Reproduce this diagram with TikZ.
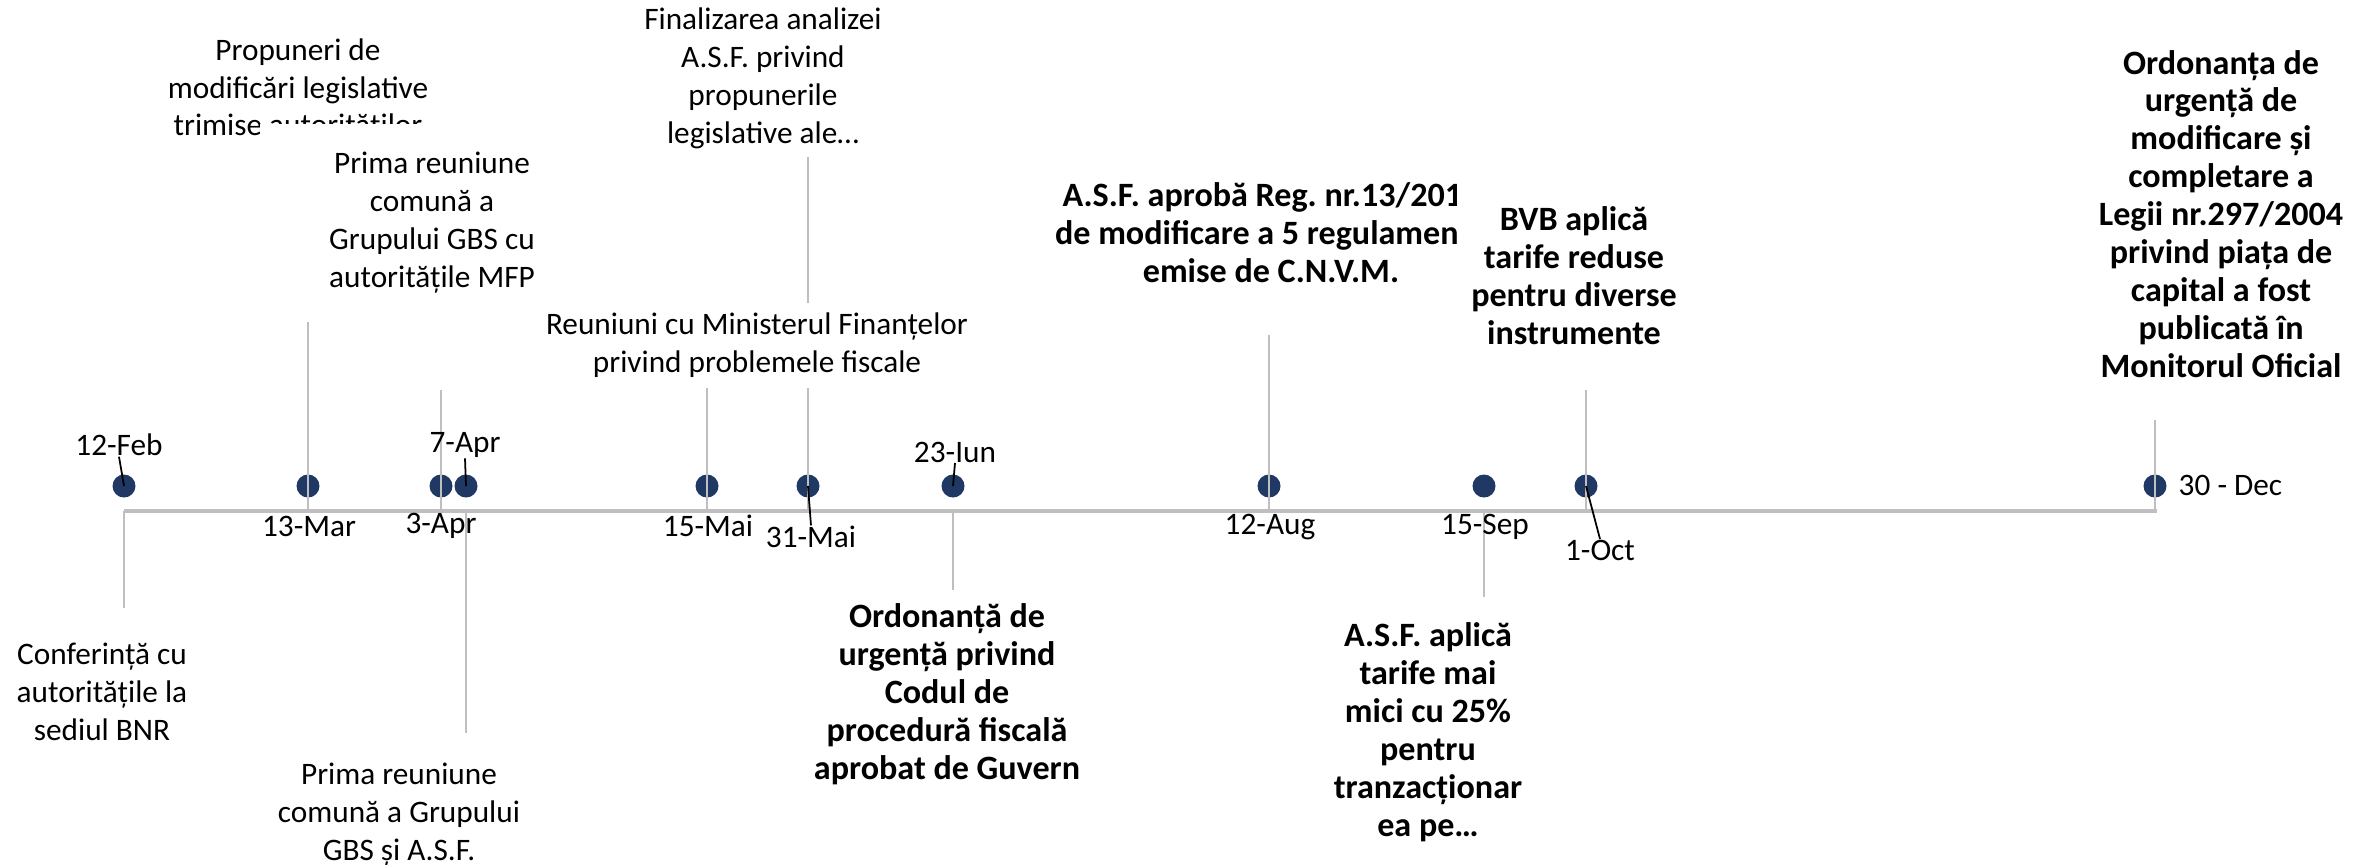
\documentclass[tikz,border=0pt]{standalone}
\usepackage{fontspec}
\setmainfont{Carlito}
\definecolor{navy}{HTML}{1F3864}
\definecolor{stemgrey}{HTML}{BFBFBF}
\frenchspacing

\begin{document}
\begin{tikzpicture}[x=0.1mm, y=-0.1mm,
dot/.style = {circle, fill=navy, inner sep=0pt, minimum size=2.3mm},
stem/.style = {draw=stemgrey, line width=0.6pt},
axis/.style = {draw=stemgrey, line width=0.9pt},
leader/.style = {draw=black, line width=0.5pt},
lbl/.style = {align=center, inner sep=0pt, font=\fontsize{8.9pt}{10.8pt}\selectfont},
lblb/.style = {lbl, font=\fontsize{9.7pt}{10.8pt}\selectfont\bfseries},
date/.style = {inner sep=0pt, font=\fontsize{8.9pt}{10.8pt}\selectfont}]
\useasboundingbox (0,0) rectangle (2379,864);

% axis and events
\coordinate (axL) at (124,511);
\coordinate (axR) at (2157,511);
\node[dot] (dFeb) at (124,486) {};
\node[dot] (dMar) at (308,486) {};
\node[dot] (dAprA) at (441,486) {};
\node[dot] (dAprB) at (466,486) {};
\node[dot] (dMaiA) at (707,486) {};
\node[dot] (dMaiB) at (808,486) {};
\node[dot] (dIun) at (953,486) {};
\node[dot] (dAug) at (1269,486) {};
\node[dot] (dSep) at (1484,486) {};
\node[dot] (dOct) at (1586,486) {};
\node[dot] (dDec) at (2155,486) {};

\draw[axis] (axL) -- (axR);

% stem ends
\coordinate (sFeb) at (124,608);
\coordinate (sMar) at (308,322);
\coordinate (sAprA) at (441,390);
\coordinate (sAprB) at (466,733);
\coordinate (sMaiA) at (707,387);
\coordinate (sMaiB) at (808,157);
\coordinate (sIun) at (953,590);
\coordinate (sAug) at (1269,335);
\coordinate (sSep) at (1484,597);
\coordinate (sOct) at (1586,390);
\coordinate (sDec) at (2155,420);
\draw[stem] (dFeb |- axL) -- (sFeb);
\draw[stem] (dMar |- axL) -- (sMar);
\draw[stem] (dAprA |- axL) -- (sAprA);
\draw[stem] (dAprB |- axL) -- (sAprB);
\draw[stem] (dMaiA |- axL) -- (sMaiA);
\draw[stem] (dMaiB |- axL) -- (sMaiB);
\draw[stem] (dIun |- axL) -- (sIun);
\draw[stem] (dAug |- axL) -- (sAug);
\draw[stem] (dSep |- axL) -- (sSep);
\draw[stem] (dOct |- axL) -- (sOct);
\draw[stem] (dDec |- axL) -- (sDec);

% event texts
\node[lbl] (eMar) at (298,90) {Propuneri de\\modificări legislative\\trimise autorităților};
\node[lbl, fill=white, minimum width=34.5mm, minimum height=19.8mm] (eAprA) at (432,223)
  {Prima reuniune\\comună a\\Grupului GBS cu\\autoritățile MFP};
\node[lbl, fill=white, minimum width=44mm, minimum height=8.5mm] (eMaiA) at (757,345)
  {Reuniuni cu Ministerul Finanțelor\\privind problemele fiscale};
\node[lbl] (eMaiB) at (763,78) {Finalizarea analizei\\A.S.F. privind\\propunerile\\legislative ale…};
\node[lbl] (eFeb) at (102,692) {Conferință cu\\autoritățile la\\sediul BNR};
\node[lbl] (eAprB) at (399,815) {Prima reuniune\\comună a Grupului\\GBS și A.S.F.};
\node[lblb] (eIun) at (947,694) {Ordonanță de\\urgență privind\\Codul de\\procedură fiscală\\aprobat de Guvern};
\begin{scope}
\clip (1000,150) rectangle (1456,300);
\node[lblb] (eAug) at (1271,233) {A.S.F. aprobă Reg. nr.13/2015\\de modificare a 5 regulamente\\emise de C.N.V.M.};
\end{scope}
\node[lblb] (eOct) at (1574,276) {BVB aplică\\tarife reduse\\pentru diverse\\instrumente};
\node[lblb] (eSep) at (1428,732) {A.S.F. aplică\\tarife mai\\mici cu 25\%\\pentru\\tranzacționar\\ea pe…};
\node[lblb] (eDec) at (2221,214) {Ordonanța de\\urgență de\\modificare și\\completare a\\Legii nr.297/2004\\privind piața de\\capital a fost\\publicată în\\Monitorul Oficial};

% date labels
\node[date] (tFeb) at (119,445) {12-Feb};
\node[date] (tMar) at (309,526) {13-Mar};
\node[date] (tAprA) at (441,526) {3-Apr};
\node[date] (tAprB) at (465,445) {7-Apr};
\node[date] (tMaiA) at (708,526) {15-Mai};
\node[date] (tMaiB) at (811,537) {31-Mai};
\node[date] (tIun) at (955,452) {23-Iun};
\node[date] (tAug) at (1270,527) {12-Aug};
\node[date] (tSep) at (1485,527) {15-Sep};
\node[date] (tOct) at (1600,550) {1-Oct};
\node[date, anchor=west] (tDec) at (2178,485) {30 - Dec};

\draw[leader] (tFeb.south) -- (dFeb.center);
\draw[leader] (tAprB.south) -- (dAprB.center);
\draw[leader] (dMaiB.center) -- (tMaiB.north);
\draw[leader] (tIun.south) -- (dIun.center);
\draw[leader] (dOct.center) -- (tOct.north);
\end{tikzpicture}
\end{document}
